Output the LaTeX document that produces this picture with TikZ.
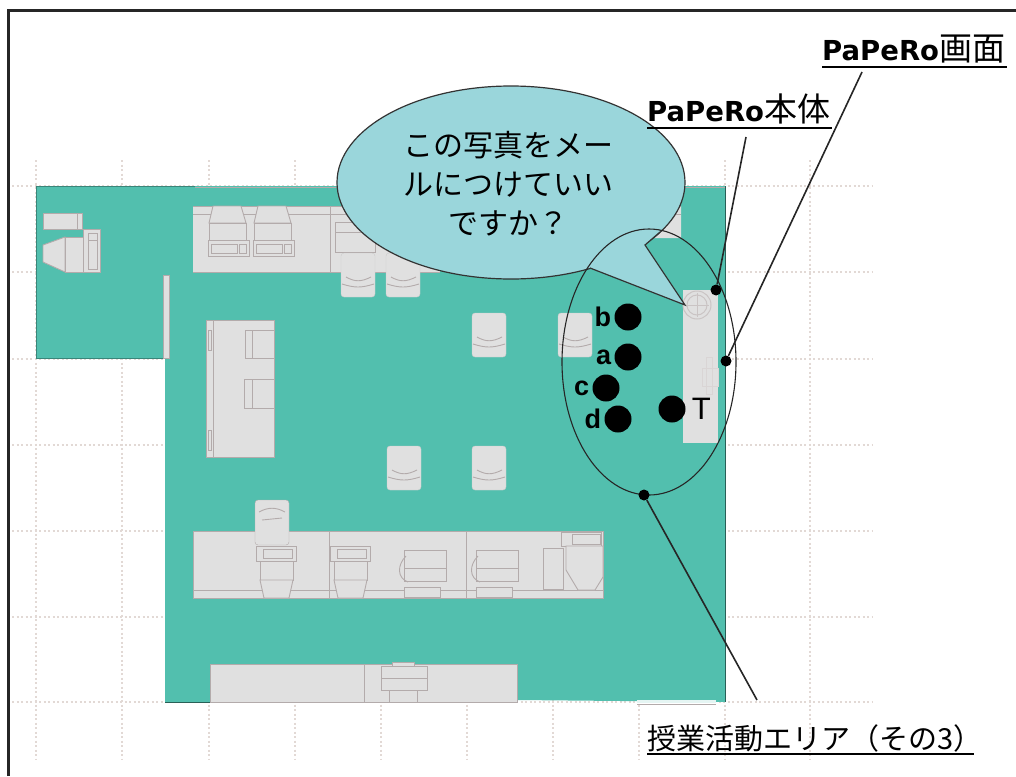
\documentclass[tikz,border=0pt]{standalone}
\usepackage{fontspec}
\setmainfont{Liberation Sans}
\newfontfamily\jpfont{Noto Sans CJK JP}
\newfontfamily\boldfont{DejaVu Sans Bold}
\usetikzlibrary{calc,positioning}
\definecolor{floorcol}{HTML}{52BFAE}
\definecolor{bubblecol}{HTML}{9AD6DB}
\definecolor{furncol}{HTML}{E0E0E0}
\definecolor{furnline}{HTML}{B3ABAB}
\definecolor{gridcol}{HTML}{E2D9D5}
\tikzset{
    furn/.style = {fill=furncol, draw=furnline, line width=0.9pt},
    thinline/.style = {draw=furnline, line width=0.9pt},
    gridline/.style = {draw=gridcol, line width=2pt, dash pattern=on 2pt off 2.5pt},
    point/.style = {circle, fill=black, inner sep=0pt, minimum size=27pt, node contents={}},
    leaderdot/.style = {circle, fill=black, inner sep=0pt, minimum size=11pt, node contents={}},
    leader/.style = {draw=black!85, line width=1.6pt},
    letter/.style = {font=\fontsize{27}{27}\selectfont\bfseries, inner sep=0pt},
    caption/.style = {inner sep=0pt, anchor=base west}
}

\begin{document}
\begin{tikzpicture}[x=1pt,y=-1pt]
  \useasboundingbox (0,0) rectangle (1016,776);
  \draw[black!85, line width=3pt] (8.5,776) -- (8.5,11) -- (1016,11);

  % grid
  \foreach \gy in {186,272,359,445,531,617,702}
    \draw[gridline] (12,\gy) -- (873,\gy);
  \foreach \gx in {36,122,209,295,381,467,553,639,725,810}
    \draw[gridline] (\gx,160) -- (\gx,760);

  % floor
  \fill[floorcol] (36,186) -- (725,186) -- (725,702) -- (517,700) -- (165,702)
    -- (165,358) -- (36,358) -- cycle;
  \draw[furnline, line width=1pt] (195,187) -- (725,187);
  \draw[floorcol!70!black, line width=1pt] (36,358) -- (165,358) (36,186) -- (36,358) (36,186) -- (195,186);
  \draw[floorcol!50!black, line width=1pt] (165,702) -- (210,702) (725,186) -- (725,702);
  \draw[furn] (163,275) rectangle (169,358);
  \fill[white!85!floorcol] (637,700) rectangle (716,703);
  \draw[thinline] (637,704) -- (716,704);

  % left room
  \draw[furn] (43,213) rectangle (82,229);
  \draw[thinline] (77,213) -- (77,229);
  \draw[furn] (43,245) -- (65,237) -- (65,272) -- (43,262) -- cycle;
  \draw[furn] (65,237) rectangle (83,272);
  \draw[furn] (83,229) rectangle (100,272);
  \draw[thinline] (88,233) rectangle (97,269);
  \draw[thinline] (88,240) -- (97,240);

  % top counter
  \fill[furncol] (193,206) -- (681,206) -- (681,238) -- (440,238) -- (440,272) -- (193,272) -- cycle;
  \draw[thinline] (193,272) -- (440,272) (193,206) -- (681,206) (330,206) -- (330,272);
  \draw[thinline] (193,214) -- (681,214);
  \foreach \mx in {213,258} {
    \draw[furn] (\mx,206) -- (\mx+28,206) -- (\mx+33,223) -- (\mx-4,223) -- cycle;
    \draw[furn] (\mx-4,223) rectangle (\mx+33,240);
    \draw[furn] (\mx-5,240) rectangle (\mx+36,256);
    \draw[thinline] (\mx-2,244) rectangle (\mx+24,253);
    \draw[thinline] (\mx+26,244) rectangle (\mx+33,253);
  }
  \draw[furn] (335,222) rectangle (375,252);
  \draw[thinline] (335,232) -- (375,232);
  \draw[furn] (352,206) rectangle (362,214);

  % island
  \draw[furn] (206,320) rectangle (274,457);
  \draw[thinline] (213,320) -- (213,457);
  \draw[thinline] (208,330) rectangle (211,350) (208,430) rectangle (211,450);
  \draw[furn] (274,330) -- (245,330) -- (245,358) -- (274,358);
  \draw[thinline] (252,330) -- (252,358);
  \draw[furn] (274,379) -- (244,379) -- (244,408) -- (274,408);
  \draw[thinline] (252,379) -- (252,408);

  % chairs
  \foreach \cx/\cy in {341/253,386/253,472/313,558/313,387/446,472/446}
    {
    \draw[fill=furncol, draw=furncol!90!black, rounded corners=3pt] (\cx,\cy) rectangle ++(34,44);
    \draw[thinline] (\cx+5,\cy+24) .. controls (\cx+14,\cy+29) and (\cx+20,\cy+29) .. (\cx+30,\cy+24);
    \draw[thinline] (\cx+1,\cy+31) .. controls (\cx+14,\cy+35) and (\cx+20,\cy+35) .. (\cx+33,\cy+31);
    }

  % bottom counter
  \draw[furn] (193,531) rectangle (603,598);
  \draw[thinline] (329,531) -- (329,598) (466,531) -- (466,598);
  \draw[thinline] (193,590) -- (603,590);
  \draw[fill=furncol, draw=furnline, rounded corners=3pt] (255,500) rectangle (289,545);
  \draw[thinline] (259,512) .. controls (268,507) and (276,507) .. (285,512);
  \draw[thinline] (262,520) -- (282,518);
  \foreach \mx in {256,330} {
    \draw[furn] (\mx,546) rectangle (\mx+40,561);
    \draw[thinline] (\mx+7,549) rectangle (\mx+36,558);
    \draw[furn] (\mx+4,561) rectangle (\mx+37,580);
    \draw[furn] (\mx+4,580) -- (\mx+37,580) -- (\mx+33,598) -- (\mx+8,598) -- cycle;
  }
  \foreach \mx in {400,472} {
    \draw[furn] (\mx+4,550) rectangle (\mx+46,581);
    \draw[thinline] (\mx+4,568) -- (\mx+46,568);
    \draw[thinline] (\mx+6,556) .. controls (\mx-3,565) and (\mx-3,578) .. (\mx+8,582);
    \draw[furn] (\mx+4,587) rectangle (\mx+40,597);
  }
  \draw[furn] (543,548) rectangle (563,589);
  \draw[furn] (561,532) rectangle (601,546);
  \draw[thinline] (572,534) rectangle (600,544);
  \draw[furn] (566,546) -- (603,546) -- (603,577) -- (595,590) -- (578,590) -- (566,570) -- cycle;

  % lowest counter
  \draw[furn] (210,664) rectangle (517,702);
  \draw[thinline] (364,664) -- (364,702);
  \draw[furn] (381,666) rectangle (427,690);
  \draw[thinline] (381,678) -- (427,678);
  \draw[furn] (389,690) rectangle (417,702);
  \draw[furn] (392,662) rectangle (414,666);

  % desk at the right
  \fill[furncol] (683,290) rectangle (718,443);
  \draw[draw=furnline!70, line width=1pt] (697,305) circle (14) (697,305) circle (10);
  \draw[furnline!70, line width=1pt] (685,305) -- (709,305) (697,293) -- (697,317);
  \draw[furnline!50, line width=1pt] (706,357) rectangle (712,394);
  \draw[furnline!50, line width=1pt] (702,368) rectangle (718,386);

  % bubble
  \draw[fill=bubblecol, draw=black!80, line width=1.2pt] (511,182.5) ellipse (174 and 96.5);
  \fill[bubblecol] (590,268) -- (685,305) -- (645,245) -- (660,232) -- (620,230) -- cycle;
  \draw[draw=black!80, line width=1.2pt] (590,268) -- (685,305) -- (645,245) -- (660,232);
  \node (bubbletext) at (508,184) [align=center, inner sep=0pt,
    font=\jpfont\fontsize{30}{39}\selectfont] {この写真をメー\\ルにつけていい\\ですか？};

  % area
  \draw[black!85, line width=1.1pt] (649,362) ellipse (87 and 133);

  % people
  \node (b) at (628,317) [label={[letter,label distance=3pt]left:b},point];
  \node (a) at (628,357) [label={[letter,label distance=3pt]left:a},point];
  \node (c) at (606,388) [label={[letter,label distance=3pt]left:c},point];
  \node (d) at (618,419) [label={[letter,label distance=3pt]left:d},point];
  \node (T) at (672,409) [label={[inner sep=0pt,font=\fontsize{31}{31}\selectfont,label distance=6pt]right:T},point];

  % labels
  \node (body) at (647,121) [caption] {\boldfont\fontsize{27.5}{27.5}\selectfont PaPeRo\jpfont\fontsize{33}{33}\selectfont 本体};
  \node (screen) at (822,60) [caption] {\boldfont\fontsize{27.5}{27.5}\selectfont PaPeRo\jpfont\fontsize{33}{33}\selectfont 画面};
  \node (area) at (647,749) [caption, font=\jpfont\fontsize{29}{29}\selectfont] {授業活動エリア（その3）};
  \draw[black, line width=1.4pt] (647,128) -- (832,128);
  \draw[black, line width=1.4pt] (822,67) -- (1007,67);
  \draw[black, line width=1.4pt] (647,754) -- (974,754);

  % leaders
  \node (bodydot) at (716,290) [leaderdot];
  \node (screendot) at (726,361) [leaderdot];
  \node (areadot) at (644,495) [leaderdot];
  \coordinate (bodyend) at (746,137);
  \coordinate (screenend) at (862,72);
  \coordinate (areaend) at (757,700);
  \path (bodydot) edge[leader] (bodyend);
  \path (screendot) edge[leader] (screenend);
  \path (areadot) edge[leader] (areaend);
\end{tikzpicture}
\end{document}
